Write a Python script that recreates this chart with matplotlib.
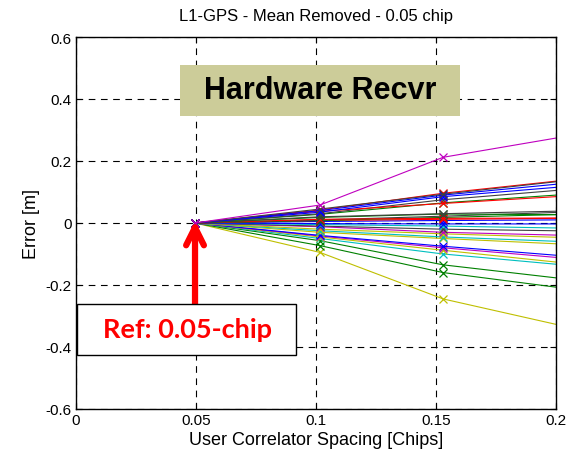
import matplotlib
matplotlib.use('Agg')
import matplotlib.pyplot as plt
from matplotlib.patches import Rectangle

plt.rcParams['font.family'] = ['Liberation Sans', 'DejaVu Sans']

# correlator spacings actually used (last one only sets the edge of the plot)
spacing = [0.0496, 0.1017, 0.1530, 0.2]

# mean-removed error [m] for each satellite, at the spacings above
errors = [
    [0.0, 0.058, 0.212, 0.274],
    [0.0, 0.045, 0.093, 0.133],
    [0.0, 0.040, 0.090, 0.125],
    [0.0, 0.035, 0.085, 0.115],
    [0.0, 0.038, 0.063, 0.085],
    [0.0, 0.030, 0.075, 0.105],
    [0.0, 0.028, 0.065, 0.090],
    [0.0, 0.042, 0.096, 0.135],
    [0.0, 0.020, 0.030, 0.038],
    [0.0, 0.018, 0.029, 0.027],
    [0.0, 0.012, 0.015, 0.016],
    [0.0, 0.010, 0.022, 0.034],
    [0.0, 0.008, 0.018, 0.027],
    [0.0, 0.008, 0.012, 0.015],
    [0.0, 0.005, 0.008, 0.010],
    [0.0, -0.002, -0.003, -0.003],
    [0.0, -0.005, -0.010, -0.016],
    [0.0, -0.010, -0.020, -0.025],
    [0.0, -0.012, -0.030, -0.039],
    [0.0, -0.020, -0.035, -0.046],
    [0.0, -0.025, -0.045, -0.059],
    [0.0, -0.030, -0.050, -0.067],
    [0.0, -0.040, -0.075, -0.104],
    [0.0, -0.042, -0.080, -0.111],
    [0.0, -0.045, -0.088, -0.126],
    [0.0, -0.050, -0.100, -0.133],
    [0.0, -0.057, -0.135, -0.177],
    [0.0, -0.073, -0.160, -0.207],
    [0.0, -0.095, -0.245, -0.327],
]
colors = ['m', 'k', 'b', 'b', 'r', 'k', 'g', 'r', 'k', 'g', 'r', 'k', 'g', 'r', 'b',
          'b', 'c', 'k', 'm', 'y', 'c', 'y', 'b', 'm', 'y', 'c', 'g', 'g', 'y']

# old matlab colour order
cmap = {'b': (0, 0, 1), 'g': (0, 0.5, 0), 'r': (1, 0, 0), 'c': (0, 0.75, 0.75),
        'm': (0.75, 0, 0.75), 'y': (0.75, 0.75, 0), 'k': (0.25, 0.25, 0.25)}

xticks = [0, 0.05, 0.1, 0.15, 0.2]
yticks = [-0.6, -0.4, -0.2, 0, 0.2, 0.4, 0.6]

fig = plt.figure(figsize=(5.8, 4.64), dpi=100)
ax = fig.add_axes([0.131, 0.1164, 0.8276, 0.8017])

for e, c in zip(errors[::-1], colors[::-1]):
    ax.plot(spacing, e, color=cmap[c], lw=0.8, marker='x', ms=6, mew=0.9,
            markevery=[0, 1, 2])

ax.set_xlim(0, 0.2)
ax.set_ylim(-0.6, 0.6)
ax.set_xticks(xticks)
ax.set_xticklabels(['%g' % t for t in xticks])
ax.set_yticks(yticks)
ax.set_yticklabels(['%g' % t for t in yticks])
ax.tick_params(direction='in', labelsize=11, length=4, pad=3, top=True, right=True)
ax.grid(True, color='k', linestyle=(0, (6, 5)), lw=0.8)
ax.set_axisbelow(True)
for s in ax.spines.values():
    s.set_linewidth(1.0)

ax.set_title('L1-GPS - Mean Removed - 0.05 chip', fontsize=12, pad=12)
ax.set_xlabel('User Correlator Spacing [Chips]', fontsize=13, labelpad=3)
ax.set_ylabel('Error [m]', fontsize=13, labelpad=4)

# receiver tag
ax.add_patch(Rectangle((0.0433, 0.345), 0.1167, 0.165, facecolor='#cccc99',
                       edgecolor='none', zorder=5))
ax.text(0.1017, 0.428, 'Hardware Recvr', ha='center', va='center',
        fontsize=22, fontweight='bold', zorder=6)

# reference spacing marker
ax.annotate('', xy=(0.0496, 0.008), xytext=(0.0496, -0.262),
            arrowprops=dict(arrowstyle='->', color='red', lw=4.5,
                            mutation_scale=32, shrinkA=0, shrinkB=0),
            zorder=6)
ax.add_patch(Rectangle((0.0004, -0.426), 0.0913, 0.165, facecolor='white',
                       edgecolor='k', lw=1.0, zorder=7))
ax.text(0.0465, -0.342, 'Ref: 0.05-chip', ha='center', va='center', color='red',
        fontsize=19.5, fontweight='bold', family=['Lato', 'DejaVu Sans'], zorder=8)

fig.savefig('out.png', dpi=100)
